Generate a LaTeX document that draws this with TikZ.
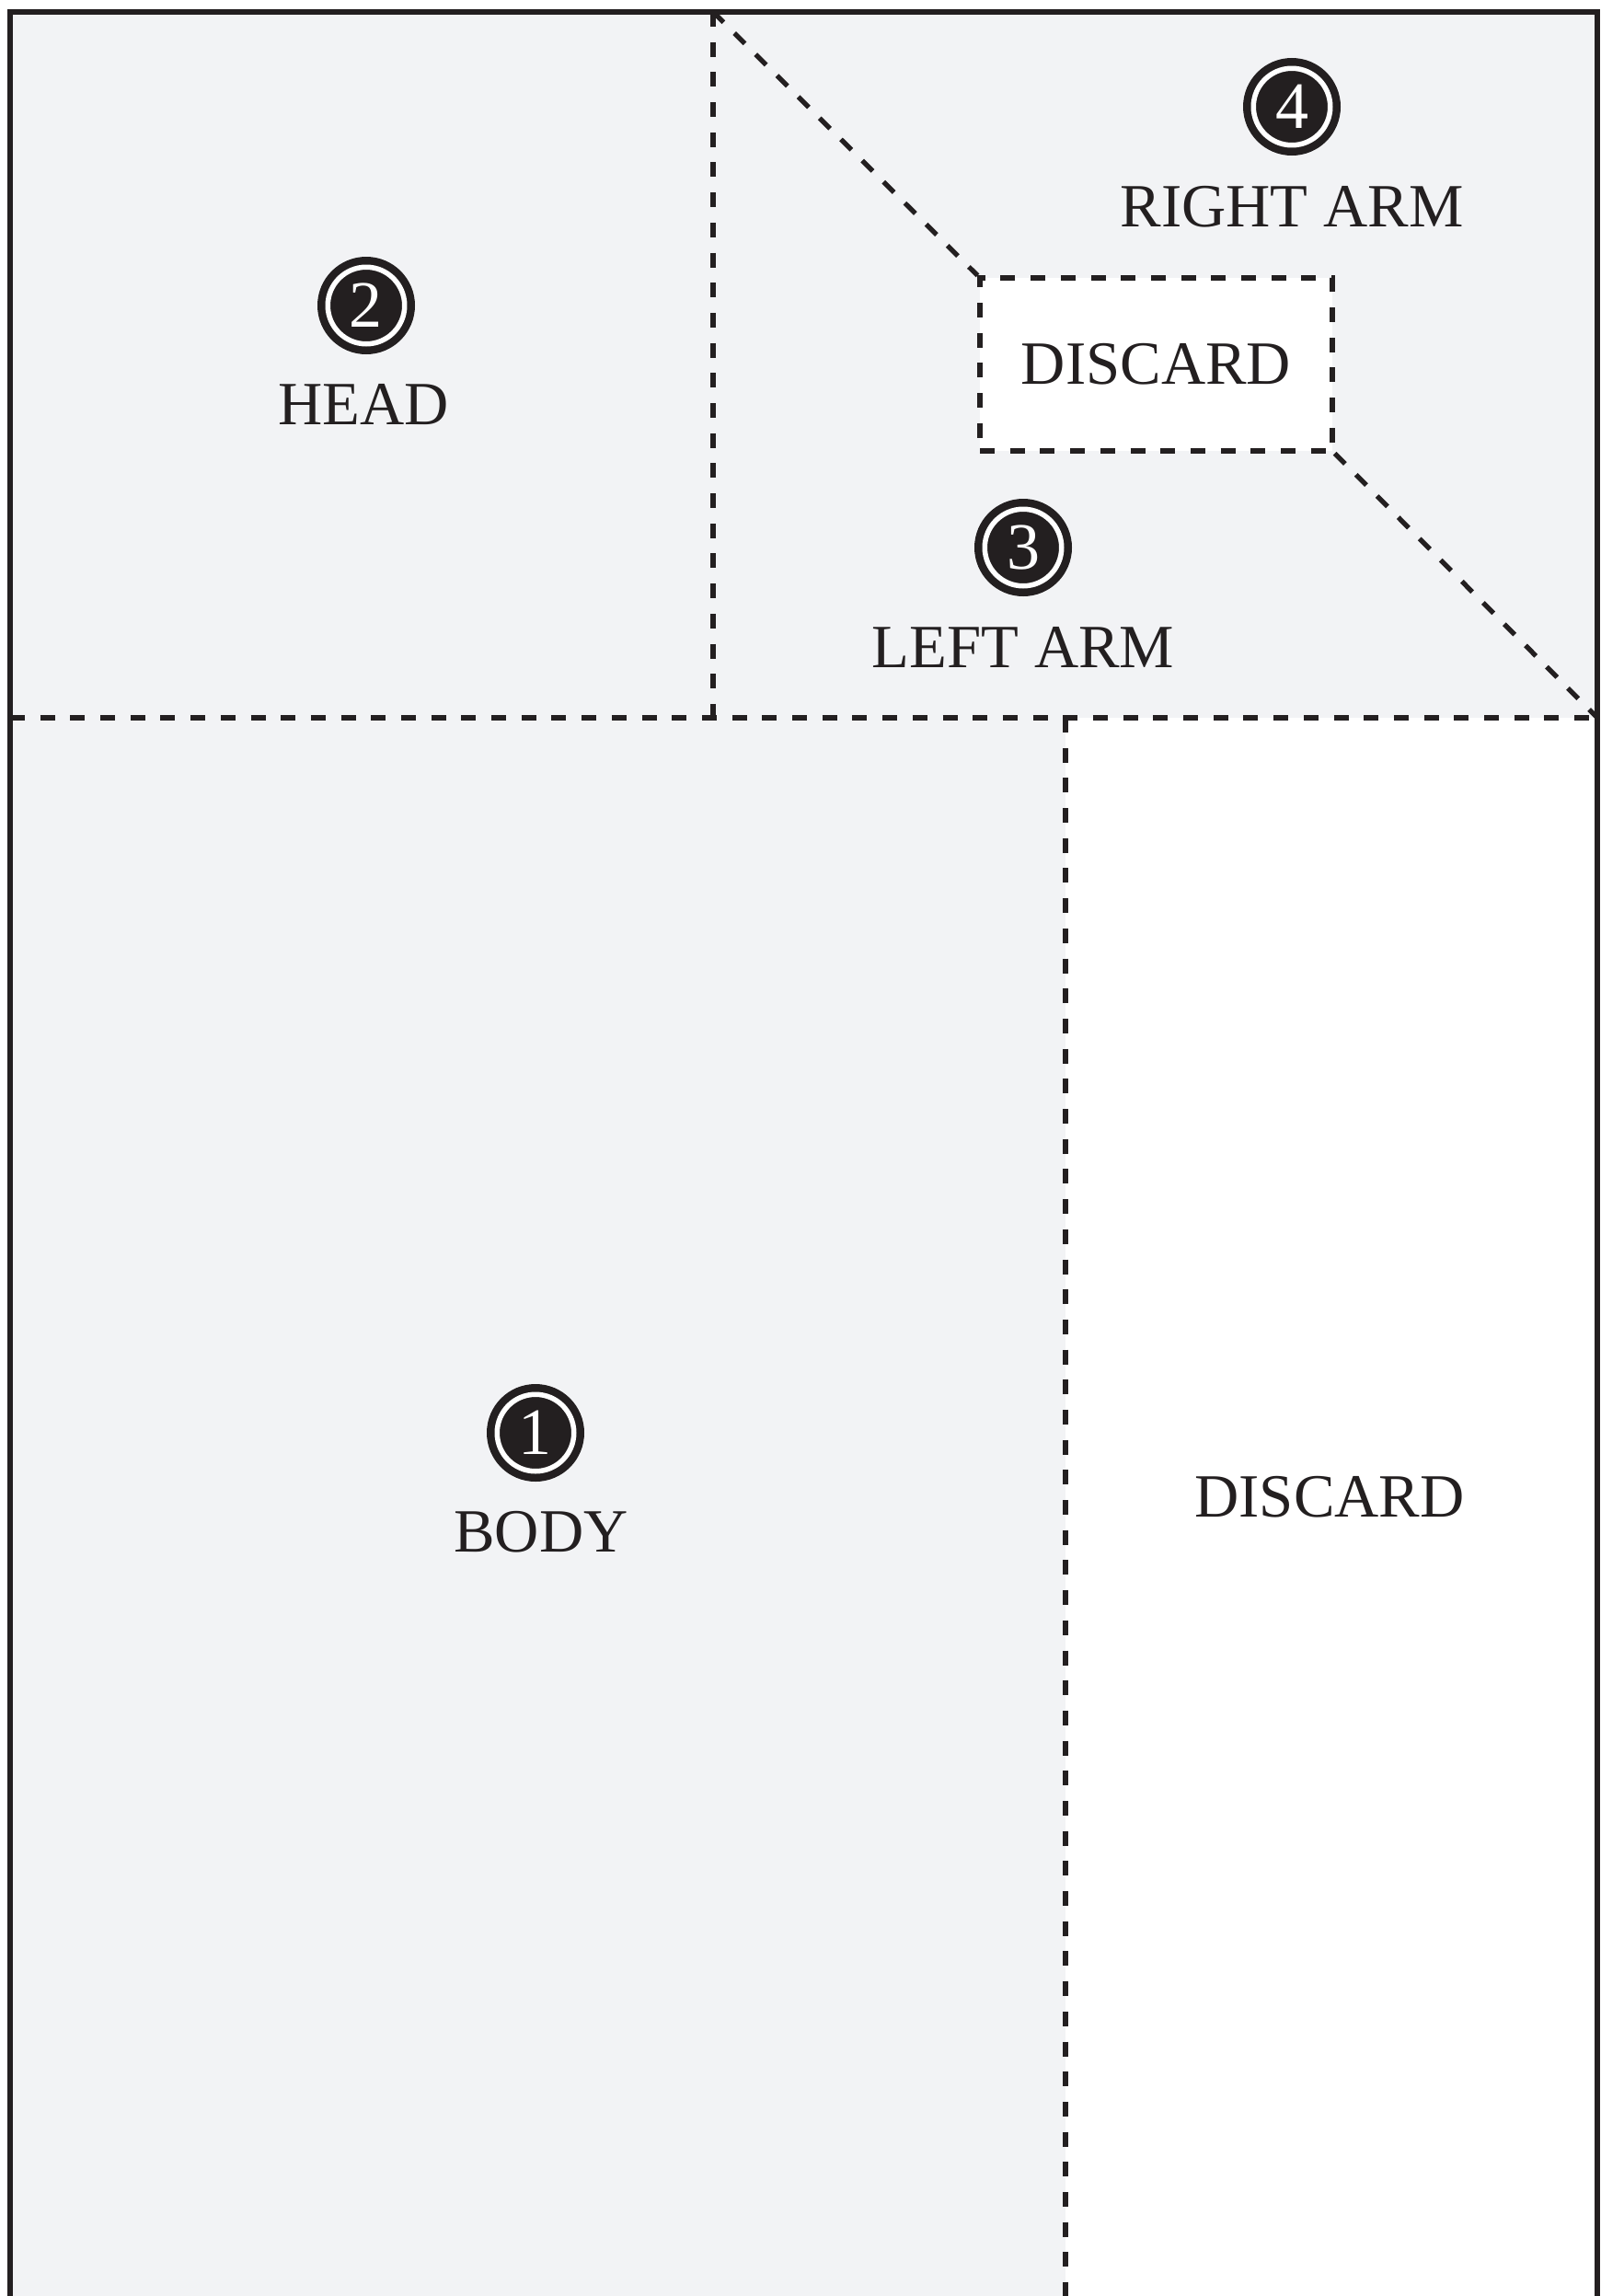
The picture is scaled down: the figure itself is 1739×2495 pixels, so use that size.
\documentclass[tikz,border=0pt]{standalone}
\usepackage{fontspec}
\setmainfont{Liberation Serif}
\usepackage{tikz}
\usetikzlibrary{positioning}
\definecolor{inkblack}{RGB}{35,31,32}
\definecolor{sheetgrey}{RGB}{242,243,245}
\tikzset{
  base/.style={font=\fontsize{38}{40}\selectfont, text=inkblack, inner sep=0pt},
  partlbl/.style={base, anchor=base},
  numdisk/.style={base, font=\fontsize{41}{42}\selectfont, circle, text=white, fill=inkblack, draw=inkblack, double=white,
    double distance=0.11cm, line width=0.17cm, minimum size=1.67cm},
  border/.style={draw=inkblack, line width=0.106cm, line cap=rect},
  cutline/.style={draw=inkblack, line width=0.106cm, dash pattern=on 0.32cm off 0.334cm},
  scrap/.style={base, rectangle, fill=white, cutline, minimum width=7.66cm, minimum height=3.76cm},
}
\begin{document}
\begin{tikzpicture}[x=0.02cm,y=-0.02cm]
  \useasboundingbox (0,0) rectangle (1739,2495);
  % sheet and the leftover strip
  \fill[sheetgrey] (11,13) rectangle (1736,2520);
  \fill[white] (1158,780) rectangle (1736,2520);
  \coordinate (topjoin) at (775,13);
  \coordinate (midjoin) at (775,780);
  \coordinate (leftjoin) at (11,780);
  \coordinate (rightjoin) at (1736,780);
  \coordinate (stripjoin) at (1158,780);
  \coordinate (stripend) at (1158,2520);
  % cut lines
  \draw[cutline] (leftjoin) -- (rightjoin);
  \draw[cutline] (topjoin) -- (midjoin);
  \draw[cutline] (stripjoin) -- (stripend);
  \node[scrap] (scrapbox) at (1256.5,396) {\raisebox{-0.3ex}{DISCARD}};
  \draw[cutline] (topjoin) -- (scrapbox.north west);
  \draw[cutline] (scrapbox.south east) -- (rightjoin);
  % outline
  \draw[border] (11,2520) -- (11,13) -- (1736,13) -- (1736,2520);
  % pieces
  \node[numdisk] (numbody) at (582,1557) {1};
  \node[partlbl] (body) at (588,1686) {BODY};
  \node[numdisk] (numhead) at (398,332) {2};
  \node[partlbl] (head) at (395,461) {HEAD};
  \node[numdisk] (numleft) at (1112,595) {3};
  \node[partlbl] (leftarm) at (1112,725) {LEFT ARM};
  \node[numdisk] (numright) at (1404,116) {4};
  \node[partlbl] (rightarm) at (1404,246) {RIGHT ARM};
  \node[partlbl] (strip) at (1445,1648) {DISCARD};
\end{tikzpicture}
\end{document}
